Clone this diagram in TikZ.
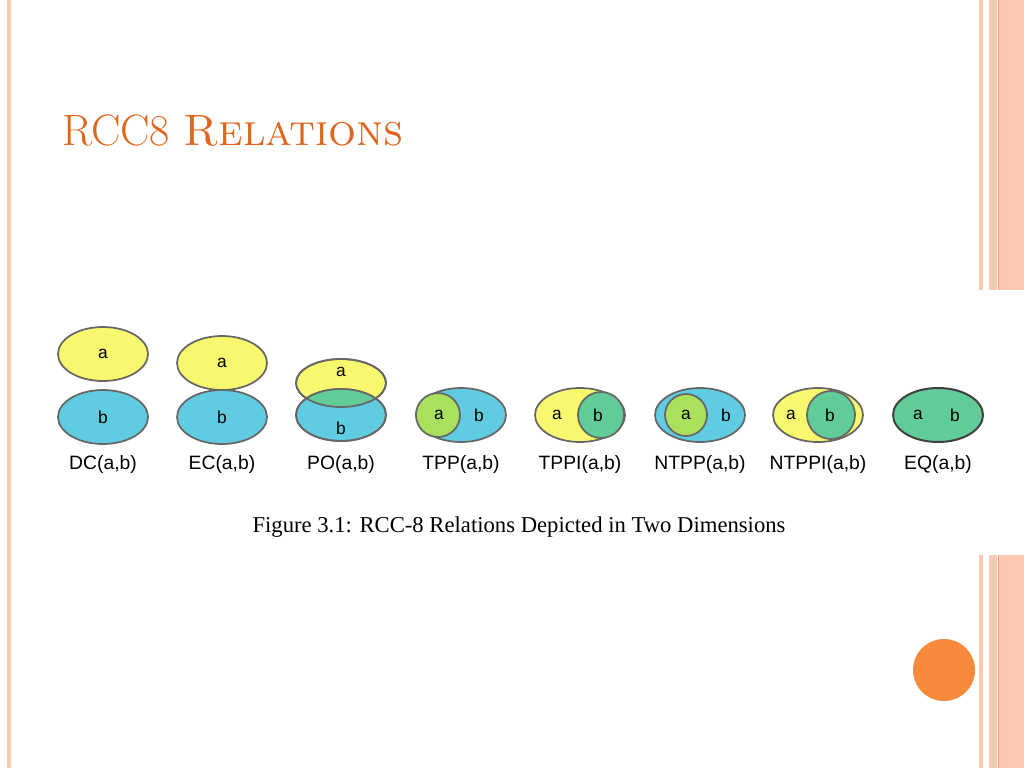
\documentclass[tikz,border=0pt]{standalone}
\usepackage{fontspec}
\newfontfamily\lab{Liberation Sans}
\newfontfamily\capfont{Liberation Serif}
\begin{document}
\begin{tikzpicture}[x=0.75pt,y=-0.75pt,
  el/.style={draw=gray!80!black,line width=1.3pt},
  txt/.style={font=\lab\fontsize{13}{13}\selectfont,inner sep=0pt},
  rel/.style={font=\lab\fontsize{14.5}{14.5}\selectfont,inner sep=0pt}]
\definecolor{yel}{HTML}{F8F86E}
\definecolor{blu}{HTML}{5FCCE2}
\definecolor{grn}{HTML}{62CC98}
\definecolor{lgr}{HTML}{A9E05C}
\definecolor{stripe}{HTML}{FBC9B2}
\definecolor{stripeD}{HTML}{F2A584}
\definecolor{ttl}{HTML}{E0651C}
\definecolor{dot}{HTML}{F98A3C}
\useasboundingbox (0,0) rectangle (1024,768);
\fill[white] (0,0) rectangle (1024,768);
% borders
\fill[stripe] (7,0) rectangle (11,768);
\foreach \ya/\yb in {0/290,555/768}{
  \fill[stripe] (979,\ya) rectangle (983,\yb);
  \fill[stripe] (989,\ya) rectangle (1024,\yb);
  \fill[white] (997,\ya) rectangle (999,\yb);
  \draw[stripeD,line width=0.8pt] (998.5,\ya) -- (998.5,\yb);
  \draw[stripeD!60,line width=0.5pt] (1007,\ya) -- (1007,\yb);
}
\fill[dot] (944,670) circle (31);
% title
\node[anchor=base west,text=ttl,inner sep=0pt,font=\fontsize{33}{33}\selectfont] (title) at (62,145) {RCC8 \textsc{Relations}};
% DC
\draw[el,fill=yel] (103,354) ellipse (45 and 27);
\draw[el,fill=blu] (103,417) ellipse (45 and 27);
\node[txt] (dca) at (103,354) {a}; \node[txt] (dcb) at (103,417) {b};
% EC
\draw[el,fill=yel] (222,363) ellipse (45 and 27);
\draw[el,fill=blu] (222,417) ellipse (45 and 27);
\node[txt] (eca) at (222,363) {a}; \node[txt] (ecb) at (222,417) {b};
% PO
\draw[el,fill=yel] (341,383) ellipse (45 and 24);
\draw[el,fill=blu] (341,415) ellipse (45 and 26);
\begin{scope}\clip (341,383) ellipse (45 and 24);
\fill[grn] (341,415) ellipse (45 and 26);\end{scope}
\draw[el] (341,383) ellipse (45 and 24);
\draw[el] (341,415) ellipse (45 and 26);
\node[txt] (poa) at (341,372) {a}; \node[txt] (pob) at (341,428) {b};
% TPP
\draw[el,fill=blu] (461,415) ellipse (45 and 27);
\draw[el,fill=lgr] (438,415) circle (22);
\node[txt] (tppa) at (439,415) {a}; \node[txt] (tppb) at (479,415) {b};
% TPPI
\draw[el,fill=yel] (580,415) ellipse (45 and 27);
\draw[el,fill=grn] (601,415) circle (23);
\node[txt] (tppia) at (557,415) {a}; \node[txt] (tppib) at (598,415) {b};
% NTPP
\draw[el,fill=blu] (700,415) ellipse (45 and 27);
\draw[el,fill=lgr] (686,415) circle (21);
\node[txt] (ntppa) at (686,415) {a}; \node[txt] (ntppb) at (726,415) {b};
% NTPPI
\draw[el,fill=yel] (818,415) ellipse (45 and 27);
\draw[el,fill=grn] (831,415) circle (24);
\node[txt] (ntppia) at (791,415) {a}; \node[txt] (ntppib) at (830,415) {b};
% EQ
\draw[draw=black!75,line width=1.5pt,fill=grn] (938,415) ellipse (45 and 27);
\node[txt] (eqa) at (918,415) {a}; \node[txt] (eqb) at (955,415) {b};
% labels
\foreach \x/\t in {103/DC,222/EC,341/PO,461/TPP,580/TPPI,700/NTPP,818/NTPPI,938/EQ}
  \node[rel] (l\t) at (\x,464) {\t(a,b)};
\node[font=\capfont\fontsize{17}{17}\selectfont,inner sep=0pt] (caption) at (519,527) {Figure 3.1: RCC-8 Relations Depicted in Two Dimensions};
\end{tikzpicture}
\end{document}
